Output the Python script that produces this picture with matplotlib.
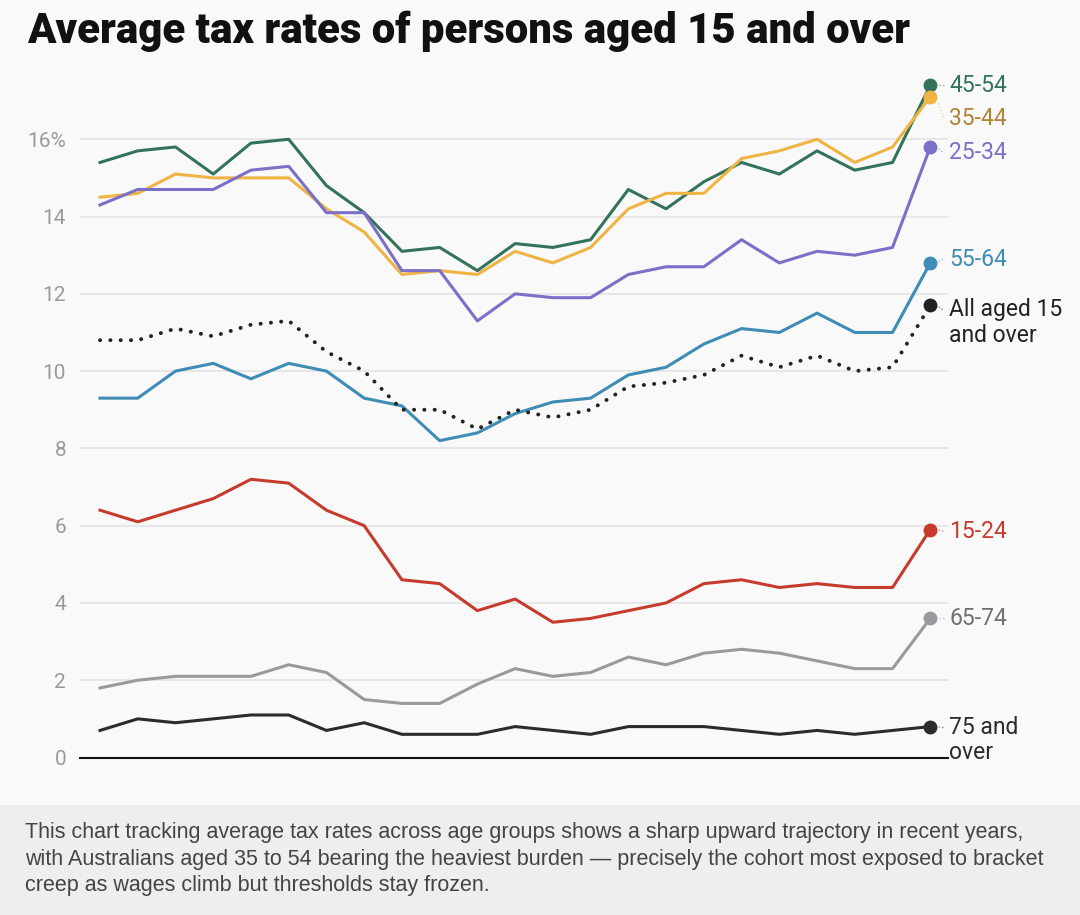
import matplotlib
matplotlib.use("Agg")
import matplotlib.pyplot as plt
import numpy as np

# Values (23 periods, average tax rate in %)
age_45_54 = [15.4, 15.7, 15.8, 15.1, 15.9, 16.0, 14.8, 14.1, 13.1, 13.2, 12.6, 13.3,
             13.2, 13.4, 14.7, 14.2, 14.9, 15.4, 15.1, 15.7, 15.2, 15.4, 17.4]
age_35_44 = [14.5, 14.6, 15.1, 15.0, 15.0, 15.0, 14.2, 13.6, 12.5, 12.6, 12.5, 13.1,
             12.8, 13.2, 14.2, 14.6, 14.6, 15.5, 15.7, 16.0, 15.4, 15.8, 17.1]
age_25_34 = [14.3, 14.7, 14.7, 14.7, 15.2, 15.3, 14.1, 14.1, 12.6, 12.6, 11.3, 12.0,
             11.9, 11.9, 12.5, 12.7, 12.7, 13.4, 12.8, 13.1, 13.0, 13.2, 15.8]
age_55_64 = [9.3, 9.3, 10.0, 10.2, 9.8, 10.2, 10.0, 9.3, 9.1, 8.2, 8.4, 8.9,
             9.2, 9.3, 9.9, 10.1, 10.7, 11.1, 11.0, 11.5, 11.0, 11.0, 12.8]
all_aged = [10.8, 10.8, 11.1, 10.9, 11.2, 11.3, 10.5, 10.0, 9.0, 9.0, 8.5, 9.0,
            8.8, 9.0, 9.6, 9.7, 9.9, 10.4, 10.1, 10.4, 10.0, 10.1, 11.7]
age_15_24 = [6.4, 6.1, 6.4, 6.7, 7.2, 7.1, 6.4, 6.0, 4.6, 4.5, 3.8, 4.1,
             3.5, 3.6, 3.8, 4.0, 4.5, 4.6, 4.4, 4.5, 4.4, 4.4, 5.9]
age_65_74 = [1.8, 2.0, 2.1, 2.1, 2.1, 2.4, 2.2, 1.5, 1.4, 1.4, 1.9, 2.3,
             2.1, 2.2, 2.6, 2.4, 2.7, 2.8, 2.7, 2.5, 2.3, 2.3, 3.6]
age_75_plus = [0.7, 1.0, 0.9, 1.0, 1.1, 1.1, 0.7, 0.9, 0.6, 0.6, 0.6, 0.8,
               0.7, 0.6, 0.8, 0.8, 0.8, 0.7, 0.6, 0.7, 0.6, 0.7, 0.8]

yticks = [0, 2, 4, 6, 8, 10, 12, 14, 16]
ytick_labels = ["0", "2", "4", "6", "8", "10", "12", "14", "16%"]

# (values, colour, label text, label colour, label y, linestyle)
series = [
    (age_45_54, "#33735a", "45-54", "#33735a", 17.4, "-"),
    (age_35_44, "#f0b444", "35-44", "#b08436", 16.55, "-"),
    (age_25_34, "#7a70c8", "25-34", "#7a70c8", 15.65, "-"),
    (age_55_64, "#3f8cb5", "55-64", "#3f8cb5", 12.9, "-"),
    (all_aged, "#222222", "All aged 15\nand over", "#222222", 11.25, ":"),
    (age_15_24, "#c63b2e", "15-24", "#c63b2e", 5.85, "-"),
    (age_65_74, "#9a9a9e", "65-74", "#707070", 3.6, "-"),
    (age_75_plus, "#2b2b2b", "75 and\nover", "#2b2b2b", 0.45, "-"),
]

W, H = 1080, 915
fig = plt.figure(figsize=(W / 100, H / 100), dpi=100)
bg = "#f9f9f9"
fig.patch.set_facecolor(bg)

# caption band at the bottom
fig.patches.append(plt.Rectangle((0, 0), 1, 110 / H, transform=fig.transFigure,
                                 facecolor="#eeeeee", edgecolor="none", zorder=0))

ax = fig.add_axes([80 / W, (H - 757.5) / H, (948 - 80) / W, (757.5 - 60) / H])
ax.set_facecolor(bg)
n = len(age_45_54)
x = np.arange(n)
ax.set_xlim(-0.53, 22.47)
ax.set_ylim(0, (757.5 - 60) / 38.64)

for vals, col, lab, lcol, ly, ls in series:
    if ls == ":":
        ax.plot(x, vals, color=col, linewidth=2.8, linestyle=(0, (0.05, 2.6)),
                dash_capstyle="round", zorder=3)
    else:
        ax.plot(x, vals, color=col, linewidth=2.2, zorder=3)
    ax.plot(x[-1], vals[-1], "o", color=col, markersize=9, zorder=4)
    # faint dotted leader from the end dot towards its label
    first_line_y = ly + (0.32 if "\n" in lab else 0)
    ax.plot([x[-1] + 0.22, 22.36],
            [vals[-1] + (first_line_y - vals[-1]) * 0.3, first_line_y],
            color=col, linewidth=0.9, alpha=0.55, linestyle=(0, (1.2, 1.6)),
            clip_on=False, zorder=2)
    ax.text(22.5, ly, lab, color=lcol, fontsize=16.5, family="Roboto",
            va="center", ha="left", linespacing=1.15, clip_on=False)

ax.set_yticks(yticks)
ax.set_yticklabels(ytick_labels)
ax.set_xticks([])
ax.tick_params(axis="y", length=0, pad=10, labelsize=15, labelcolor="#9a9a9a")
for t in ax.get_yticklabels():
    t.set_family("Roboto")
ax.grid(axis="y", color="#e4e4e4", linewidth=1.2)
ax.set_axisbelow(True)
for s in ["top", "right", "left"]:
    ax.spines[s].set_visible(False)
ax.spines["bottom"].set_color("#111111")
ax.spines["bottom"].set_linewidth(1.5)

fig.text(27 / W, 1 - 31 / H, "Average tax rates of persons aged 15 and over",
         fontsize=30.2, fontweight="heavy", family="Roboto", color="#111111",
         va="center", ha="left")

caption = ("This chart tracking average tax rates across age groups shows a sharp upward trajectory in recent years,\n"
           "with Australians aged 35 to 54 bearing the heaviest burden \u2014 precisely the cohort most exposed to bracket\n"
           "creep as wages climb but thresholds stay frozen.")
fig.text(25 / W, 1 - 859 / H, caption, fontsize=15.5, family="Liberation Sans",
         color="#444444", va="center", ha="left", linespacing=1.32)

fig.savefig("out.png", dpi=100, facecolor=bg)
